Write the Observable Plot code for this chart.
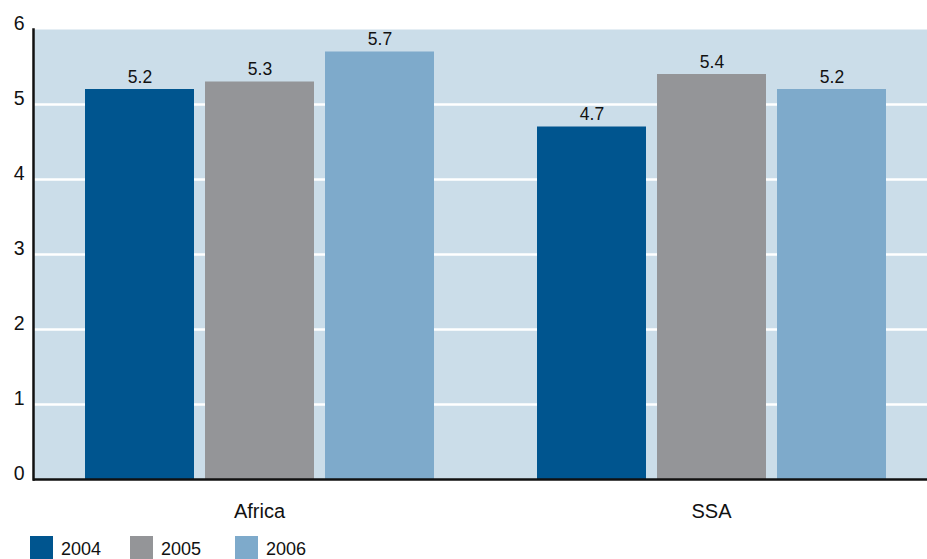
<!DOCTYPE html>
<html><head><meta charset="utf-8">
<script src="https://cdn.jsdelivr.net/npm/d3@7"></script>
<script src="https://cdn.jsdelivr.net/npm/@observablehq/plot@0.6"></script>
<style>
body{margin:0;background:#fff;font-family:"Liberation Sans",Arial,Helvetica,sans-serif;overflow:hidden;}
#chart svg{display:block;}
#legend{position:relative;height:29px;}
.item{position:absolute;top:6px;height:23px;}
.sw{position:absolute;left:0;top:0;width:23px;height:23px;}
.lab{position:absolute;left:31px;top:5px;font-size:18px;line-height:16px;color:#111;white-space:nowrap;}
</style>
</head><body>
<div id="chart"></div>
<div id="legend"></div>
<script>
const regions = ["Africa", "SSA"];
const years = ["2004", "2005", "2006"];
const africa = [5.2, 5.3, 5.7];
const ssa = [4.7, 5.4, 5.2];
const yTicks = [0, 1, 2, 3, 4, 5, 6];
const colors = ["#00558f", "#949598", "#7eaacb"];

const data = [
  ...years.map((y, i) => ({region: "Africa", year: y, value: africa[i]})),
  ...years.map((y, i) => ({region: "SSA", year: y, value: ssa[i]}))
];
const gridVals = yTicks.filter(d => d > 0 && d < 6);

const plot = Plot.plot({
  width: 927, height: 530,
  marginTop: 29, marginBottom: 51, marginLeft: 33, marginRight: 0,
  style: {fontFamily: "'Liberation Sans', Arial, sans-serif", fontSize: "18px", color: "#111", background: "transparent"},
  fx: {domain: regions, range: [33, 937], padding: 0, label: null},
  x: {domain: years, paddingInner: 0.0954, paddingOuter: 0.4232, axis: null},
  y: {domain: [0, 6], axis: null},
  color: {domain: years, range: colors},
  marks: [
    Plot.frame({fill: "#cbdde9", stroke: null, facet: "super"}),
    Plot.ruleY(gridVals, {stroke: "#fff", strokeWidth: 2.5}),
    Plot.barY(data, {fx: "region", x: "year", y: "value", fill: "year"}),
    Plot.text(data, {fx: "region", x: "year", y: "value", text: d => d.value.toFixed(1), lineAnchor: "bottom", dy: -7, fontSize: 17.5, fill: "#111"}),
    Plot.ruleY([0], {stroke: "#111", strokeWidth: 2.5}),
    Plot.frame({anchor: "left", stroke: "#111", strokeWidth: 2.5, facet: "super"}),
    Plot.text(yTicks, {fx: yTicks.map(() => regions[0]), y: d => d, text: d => String(d), frameAnchor: "left", textAnchor: "end", lineAnchor: "bottom", dx: -9, dy: 0, fontSize: 19.5, fill: "#111"}),
    Plot.axisFx({anchor: "bottom", tickSize: 0, tickPadding: 24, fontSize: 20, label: null})
  ]
});
document.getElementById("chart").append(plot);

const legend = document.getElementById("legend");
const lefts = [30, 130, 235];
years.forEach((y, i) => {
  const it = document.createElement("div");
  it.className = "item";
  it.style.left = lefts[i] + "px";
  const sw = document.createElement("div");
  sw.className = "sw";
  sw.style.background = colors[i];
  const lab = document.createElement("div");
  lab.className = "lab";
  lab.textContent = y;
  it.append(sw, lab);
  legend.append(it);
});
</script>
</body></html>
